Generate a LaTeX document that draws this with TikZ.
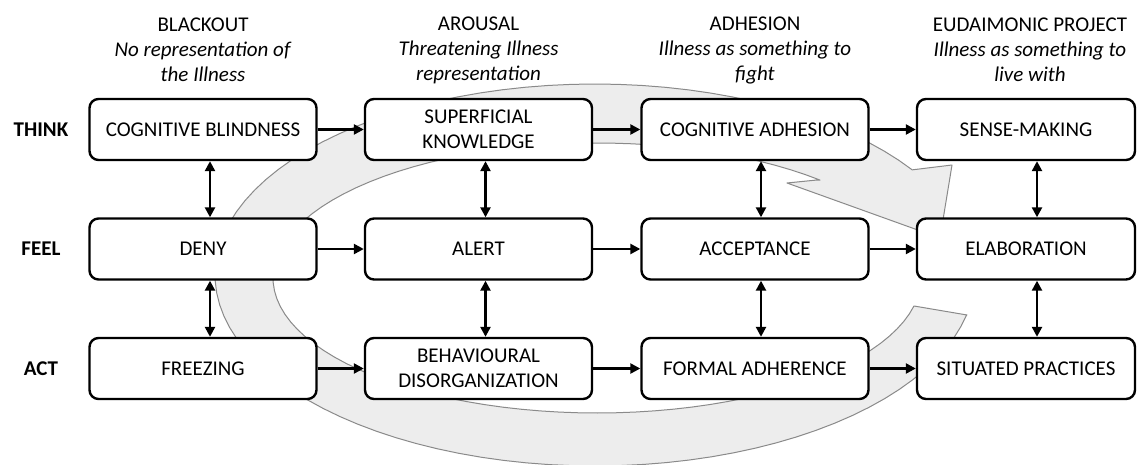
\documentclass[tikz,border=0pt]{standalone}
\usepackage{fontspec}
\setmainfont{Carlito}
\usetikzlibrary{arrows.meta}
\definecolor{bandgray}{HTML}{EDEDED}
\definecolor{edgegray}{HTML}{8A8A8A}
\begin{document}
\begin{tikzpicture}[x=1pt,y=-1pt,
  box/.style={draw=black, line width=2.4pt, rounded corners=9pt, fill=white,
    minimum width=227pt, minimum height=61pt, inner sep=0pt, align=center,
    font=\fontsize{21}{25}\selectfont},
  hdr/.style={align=center, inner sep=0pt, font=\fontsize{21}{25}\selectfont},
  rowlab/.style={inner sep=0pt, font=\fontsize{21}{25}\selectfont\bfseries},
  arr/.style={line width=2.4pt, -{Triangle[length=10pt,width=10pt]}},
  darr/.style={line width=2.4pt, {Triangle[length=10pt,width=10pt]}-{Triangle[length=10pt,width=10pt]}},
  band/.style={fill=bandgray, draw=edgegray, line width=1pt, line join=round}
]
\fill[white] (0,0) rectangle (1137,465);
\useasboundingbox (0,0) rectangle (1137,465);

% background cycle band
\draw[band] (914,306) -- (967,315)
  -- plot[domain=12:326.6, samples=90] ({595+380*cos(\x)},{275+191*sin(\x)})
  -- (952,165) -- (940,238) -- (787,183) -- (817,180)
  -- plot[domain=313.5:12, samples=90] ({597+324*cos(\x)},{278+135*sin(\x)})
  -- cycle;

% headers
\node[hdr] (h1) at (203,50) {BLACKOUT\\\textit{No representation of}\\\textit{the Illness}};
\node[hdr] (h2) at (478.5,50) {AROUSAL\\\textit{Threatening Illness}\\\textit{representation}};
\node[hdr] (h3) at (755,50) {ADHESION\\\textit{Illness as something to}\\\textit{fight}};
\node[hdr] (h4) at (1030,50) {EUDAIMONIC PROJECT\\\textit{Illness as something to}\\\textit{live with}};

% row labels
\node[rowlab] (rt) at (41,129.5) {THINK};
\node[rowlab] (rf) at (41,249) {FEEL};
\node[rowlab] (ra) at (41,368.5) {ACT};

% boxes
\node[box] (cb) at (203,129.5) {COGNITIVE BLINDNESS};
\node[box] (sk) at (478.5,129.5) {SUPERFICIAL\\KNOWLEDGE};
\node[box] (ca) at (755,129.5) {COGNITIVE ADHESION};
\node[box, minimum width=218pt] (sm) at (1026,129.5) {SENSE-MAKING};

\node[box] (de) at (203,249) {DENY};
\node[box] (al) at (478.5,249) {ALERT};
\node[box] (ac) at (755,249) {ACCEPTANCE};
\node[box, minimum width=218pt] (el) at (1026,249) {ELABORATION};

\node[box] (fr) at (203,368.5) {FREEZING};
\node[box] (bd) at (478.5,368.5) {BEHAVIOURAL\\DISORGANIZATION};
\node[box] (fa) at (755,368.5) {FORMAL ADHERENCE};
\node[box, minimum width=218pt] (sp) at (1026,368.5) {SITUATED PRACTICES};

% horizontal arrows
\draw[arr] (cb) -- (sk);
\draw[arr] (sk) -- (ca);
\draw[arr] (ca) -- (sm);
\draw[arr] (de) -- (al);
\draw[arr] (al) -- (ac);
\draw[arr] (ac) -- (el);
\draw[arr] (fr) -- (bd);
\draw[arr] (bd) -- (fa);
\draw[arr] (fa) -- (sp);

% vertical double arrows
\draw[darr] ([xshift=7pt]cb.south) -- ([xshift=7pt]de.north);
\draw[darr] ([xshift=7pt]de.south) -- ([xshift=7pt]fr.north);
\draw[darr] ([xshift=7pt]sk.south) -- ([xshift=7pt]al.north);
\draw[darr] ([xshift=7pt]al.south) -- ([xshift=7pt]bd.north);
\draw[darr] ([xshift=6pt]ca.south) -- ([xshift=6pt]ac.north);
\draw[darr] ([xshift=6pt]ac.south) -- ([xshift=6pt]fa.north);
\draw[darr] ([xshift=11pt]sm.south) -- ([xshift=11pt]el.north);
\draw[darr] ([xshift=11pt]el.south) -- ([xshift=11pt]sp.north);
\end{tikzpicture}
\end{document}
